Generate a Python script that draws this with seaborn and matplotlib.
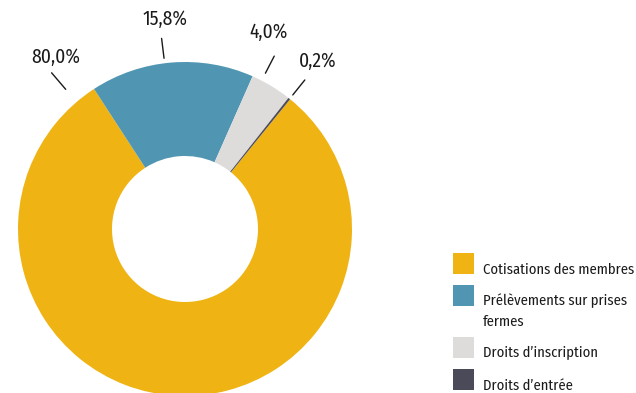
import numpy as np
import matplotlib
matplotlib.use("Agg")
import matplotlib.pyplot as plt
from matplotlib.patches import Rectangle
import seaborn as sns

# Revenue breakdown (%)
categories = ["Cotisations des membres", "Prélèvements sur prises\nfermes",
              "Droits d\u2019inscription", "Droits d\u2019entrée"]
shares = [80.0, 15.8, 4.0, 0.2]
value_labels = ["80,0%", "15,8%", "4,0%", "0,2%"]

colors = ["#EFB313", "#5096B3", "#DDDCDB", "#4B4A58"]

sns.set_theme(style="white")
plt.rcParams["font.family"] = ["Fira Sans Condensed", "DejaVu Sans"]

W, H = 636, 393
fig = plt.figure(figsize=(W / 100, H / 100), dpi=100)

# Donut: centre (185, 229) px, outer radius 167 px, inner radius 73 px
cx, cy, R = 185, 229, 167
ax = fig.add_axes([(cx - R) / W, (H - cy - R) / H, 2 * R / W, 2 * R / H])
wedges, _ = ax.pie(shares, colors=colors, startangle=51, counterclock=False,
                   radius=1.0, wedgeprops=dict(width=(R - 73) / R, linewidth=0))
ax.set_xlim(-1, 1)
ax.set_ylim(-1, 1)
ax.set_aspect("equal")
ax.axis("off")

# Leader lines and percentage labels (angle in degrees, radii relative to R)
label_angles = [130.5, 97.0, 62.7, 51.2]
line_r = [(1.10, 1.23), (1.03, 1.15), (1.05, 1.165), (1.03, 1.145)]
text_angles = [127.0, 95.5, 67.0, 51.5]
text_r = [1.29, 1.26, 1.28, 1.28]
for lab, a, (r0, r1), ta, tr in zip(value_labels, label_angles, line_r, text_angles, text_r):
    t = np.deg2rad(a)
    ax.plot([r0 * np.cos(t), r1 * np.cos(t)], [r0 * np.sin(t), r1 * np.sin(t)],
            color="#1a1a1a", lw=1.0, clip_on=False)
    tt = np.deg2rad(ta)
    ax.text(tr * np.cos(tt), tr * np.sin(tt), lab, ha="center", va="center",
            fontsize=14, color="#1a1a1a", clip_on=False)

# Legend drawn in pixel coordinates
lax = fig.add_axes([0, 0, 1, 1])
lax.set_xlim(0, W)
lax.set_ylim(H, 0)
lax.axis("off")
lax.patch.set_alpha(0)
box_tops = [253, 285, 337, 369]
for name, col, top in zip(categories, colors, box_tops):
    lax.add_patch(Rectangle((453, top), 21, 21, facecolor=col, edgecolor="none"))
    for i, line in enumerate(name.split("\n")):
        lax.text(483, top + 20.5 + 21 * i, line, ha="left", va="baseline",
                 fontsize=10.5, color="#1a1a1a")

fig.savefig("out.png", dpi=100)
